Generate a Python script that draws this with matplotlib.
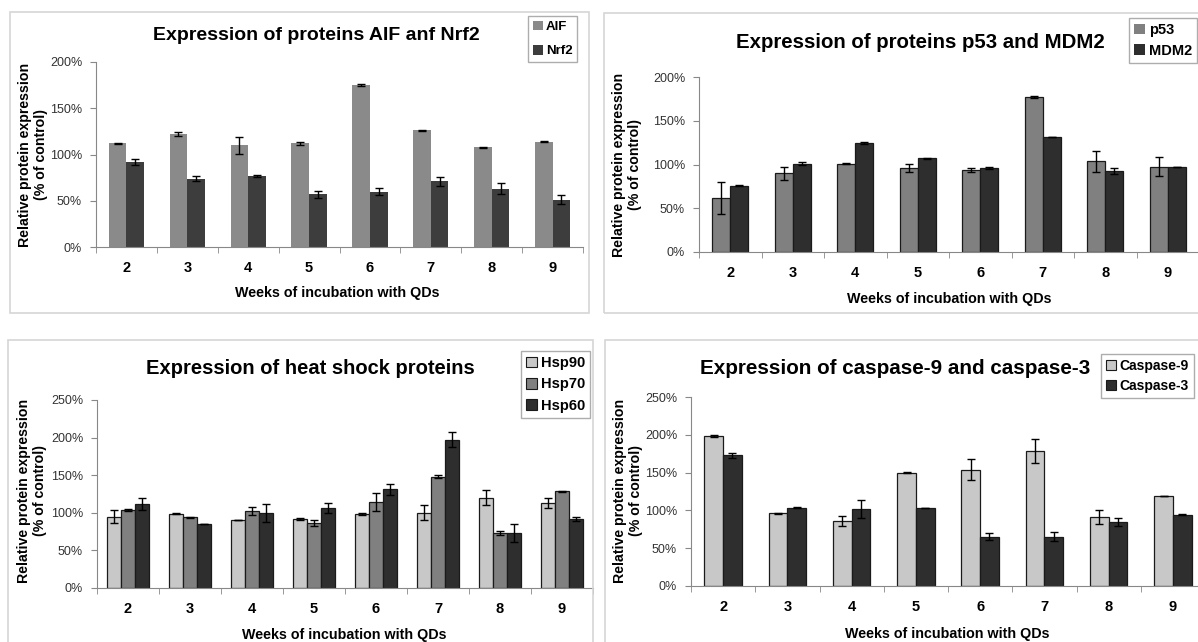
import matplotlib
matplotlib.use('Agg')
import matplotlib.pyplot as plt
import numpy as np
from matplotlib.patches import Rectangle, Patch

plt.rcParams['font.family'] = ['Liberation Sans', 'DejaVu Sans']

W, H = 1198, 642

weeks = [2, 3, 4, 5, 6, 7, 8, 9]

# AIF / Nrf2
aif = [112, 122, 110, 112, 175, 126, 108, 114]
aif_err = [0.8, 2, 9, 1.5, 0.8, 0.6, 0.5, 0.5]
nrf2 = [92, 74, 77, 57, 60, 71, 63, 51]
nrf2_err = [3, 2.5, 1, 4, 4, 5, 6, 5]

# p53 / MDM2
p53 = [62, 90, 101, 96, 94, 177, 104, 97.5]
p53_err = [18, 7.5, 0.5, 5, 2, 1.5, 12, 11]
mdm2 = [76, 101, 125, 107, 96, 131, 92.5, 97.5]
mdm2_err = [1, 2, 1, 0.5, 1, 0, 3, 0]

# heat shock proteins
hsp90 = [95, 99, 91, 92, 98, 100, 120, 113]
hsp90_err = [8.5, 1, 0, 1, 1.5, 10, 10, 6.5]
hsp70 = [104, 94, 102, 87, 114, 148, 73.5, 128.5]
hsp70_err = [1, 1, 5.5, 4, 12, 2, 2.5, 1]
hsp60 = [112, 85, 100, 106, 131, 197, 73, 92]
hsp60_err = [8, 0, 12, 6.5, 7.5, 10, 11.5, 2.5]

# caspases
casp9 = [198.5, 96, 86, 150, 154, 178.5, 91, 119]
casp9_err = [1.5, 0.5, 6.5, 1, 14, 15.5, 9.5, 0]
casp3 = [173, 103.5, 102, 103.5, 65, 65, 84.5, 94.5]
casp3_err = [3.5, 0.5, 11.5, 0, 4.5, 6, 5, 1]


def fx(x):
    return x / W


def fy(y):
    return 1 - y / H


fig = plt.figure(figsize=(W / 100, H / 100), dpi=100)
fig.patch.set_facecolor('white')


def panel(border, axbox, ymax, series, width, edge, title, title_xy, title_fs,
          xlab_xy, ylab_xy, leg_xy, leg_fs, leg_space, handle_edge):
    # light frame around each chart
    bx0, by0, bx1, by1 = border
    fig.patches.append(Rectangle((fx(bx0), fy(by1)), fx(bx1 - bx0), (by1 - by0) / H,
                                 transform=fig.transFigure, fill=False,
                                 edgecolor='#d6d6d6', linewidth=1.2))
    l, t, r, b = axbox
    ax = fig.add_axes([fx(l), fy(b), fx(r - l), (b - t) / H])
    x = np.arange(len(weeks))
    n = len(series)
    handles = []
    for i, (lab, vals, err, col) in enumerate(series):
        off = (i - (n - 1) / 2) * width
        ax.bar(x + off, vals, width, color=col, edgecolor=edge, linewidth=0.9,
               yerr=err, error_kw=dict(ecolor='black', elinewidth=1, capsize=3, capthick=1))
        handles.append(Patch(facecolor=col, edgecolor=handle_edge, linewidth=0.8, label=lab))
    ax.set_xlim(-0.5, len(weeks) - 0.5)
    ax.set_ylim(0, ymax)
    ax.set_yticks(np.arange(0, ymax + 1, 50))
    ax.set_yticklabels(['%d%%' % v for v in np.arange(0, ymax + 1, 50)],
                       fontsize=9, color='#333333')
    ax.set_xticks(x)
    ax.set_xticklabels(weeks, fontsize=10.5, fontweight='bold')
    ax.set_xticks(np.arange(-0.5, len(weeks)), minor=True)
    ax.tick_params(axis='x', which='major', length=0, pad=10)
    ax.tick_params(axis='x', which='minor', length=4, color='#888888', direction='out')
    ax.tick_params(axis='y', length=4, color='#888888', direction='out', pad=6)
    for s in ['top', 'right']:
        ax.spines[s].set_visible(False)
    for s in ['left', 'bottom']:
        ax.spines[s].set_color('#888888')
    ax.patch.set_alpha(0)

    fig.text(fx(title_xy[0]), fy(title_xy[1]), title, fontsize=title_fs,
             fontweight='bold', ha='center', va='center')
    fig.text(fx(xlab_xy[0]), fy(xlab_xy[1]), 'Weeks of incubation with QDs',
             fontsize=10.3, fontweight='bold', ha='center', va='center')
    fig.text(fx(ylab_xy[0]), fy(ylab_xy[1]), 'Relative protein expression\n(% of control)',
             fontsize=10.2, fontweight='bold', ha='center', va='center',
             rotation=90, multialignment='center', linespacing=1.1)
    leg = ax.legend(handles=handles, loc='upper left', bbox_to_anchor=(fx(leg_xy[0]), fy(leg_xy[1])),
                    bbox_transform=fig.transFigure, frameon=True, fancybox=False,
                    edgecolor='#999999', borderpad=0.35, handlelength=0.75, handleheight=0.75,
                    handletextpad=0.25, labelspacing=leg_space, borderaxespad=0,
                    prop=dict(size=leg_fs, weight='bold'))
    leg.get_frame().set_linewidth(1)
    return ax


panel((10, 12, 589, 313), (96, 62, 583, 247), 200,
      [('AIF', aif, aif_err, '#8a8a8a'), ('Nrf2', nrf2, nrf2_err, '#3d3d3d')],
      0.29, 'none', 'Expression of proteins AIF anf Nrf2', (316, 35), 14,
      (337, 293), (33, 155), (528, 16), 9.5, 0.9, 'none')

panel((604, 13, 1205, 313), (699, 77, 1199, 252), 200,
      [('p53', p53, p53_err, '#808080'), ('MDM2', mdm2, mdm2_err, '#2e2e2e')],
      0.29, '#1a1a1a', 'Expression of proteins p53 and MDM2', (920, 42), 14.7,
      (949, 299), (627, 165), (1129, 18), 10.5, 0.45, 'none')

panel((8, 340, 593, 660), (97, 400, 593, 588), 250,
      [('Hsp90', hsp90, hsp90_err, '#c8c8c8'), ('Hsp70', hsp70, hsp70_err, '#808080'),
       ('Hsp60', hsp60, hsp60_err, '#2e2e2e')],
      0.222, '#1a1a1a', 'Expression of heat shock proteins', (310, 369), 14.5,
      (344, 635), (32, 491), (521, 351), 10.5, 0.5, '#1a1a1a')

panel((605, 340, 1205, 660), (691, 397, 1205, 586), 250,
      [('Caspase-9', casp9, casp9_err, '#c8c8c8'), ('Caspase-3', casp3, casp3_err, '#2e2e2e')],
      0.29, '#1a1a1a', 'Expression of caspase-9 and caspase-3', (895, 369), 14.9,
      (947, 634), (628, 491), (1101, 354), 10, 0.45, '#1a1a1a')

fig.savefig('out.png', dpi=100, facecolor='white')
